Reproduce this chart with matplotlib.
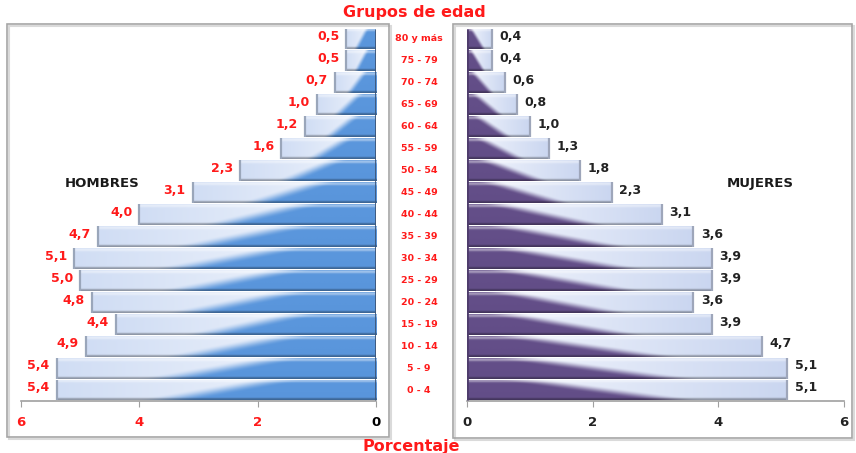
import numpy as np
import matplotlib
matplotlib.use("Agg")
import matplotlib.pyplot as plt
from matplotlib.patches import Rectangle
from matplotlib.colors import to_rgb

ages = ["0 - 4", "5 - 9", "10 - 14", "15 - 19", "20 - 24", "25 - 29", "30 - 34",
        "35 - 39", "40 - 44", "45 - 49", "50 - 54", "55 - 59", "60 - 64",
        "65 - 69", "70 - 74", "75 - 79", "80 y más"]
hombres = [5.4, 5.4, 4.9, 4.4, 4.8, 5.0, 5.1, 4.7, 4.0, 3.1, 2.3, 1.6, 1.2, 1.0, 0.7, 0.5, 0.5]
mujeres = [5.1, 5.1, 4.7, 3.9, 3.6, 3.9, 3.9, 3.6, 3.1, 2.3, 1.8, 1.3, 1.0, 0.8, 0.6, 0.4, 0.4]
xticks = [0, 2, 4, 6]

W, H = 856, 453
fig = plt.figure(figsize=(W / 100, H / 100), dpi=100)
fig.patch.set_facecolor("white")

def fx(px):
    return px / W

def fy(py):
    return 1 - py / H

# panel boxes
for (x0, x1, y0, y1) in [(7, 389, 24, 437), (453, 852, 24, 438)]:
    fig.patches.append(Rectangle((fx(x0) + 0.002, fy(y1) - 0.004), fx(x1 - x0), fy(y0) - fy(y1),
                                 transform=fig.transFigure, facecolor="none",
                                 edgecolor="#DADADA", linewidth=1.5, zorder=0))
    fig.patches.append(Rectangle((fx(x0), fy(y1)), fx(x1 - x0), fy(y0) - fy(y1),
                                 transform=fig.transFigure, facecolor="none",
                                 edgecolor="#A6A6A6", linewidth=1.2, zorder=1))

axL = fig.add_axes([fx(21), fy(401), fx(376 - 21), fy(28) - fy(401)])
axR = fig.add_axes([fx(467), fy(401), fx(844 - 467), fy(28) - fy(401)])

def gradient_img(dark, light_in, light_out, a, b, wdt=0.2, n=160, m=30):
    p = np.linspace(0, 1, n)[None, :]          # 0 at inner end, 1 at outer end
    v = np.linspace(0, 1, m)[:, None]          # 0 top, 1 bottom
    t = np.clip(((a + b * v) - p) / wdt + 0.5, 0, 1)
    t = t * t * (3 - 2 * t)
    dark = np.array(to_rgb(dark))
    li = np.array(to_rgb(light_in))
    lo = np.array(to_rgb(light_out))
    light = li[None, None, :] * (1 - p[..., None]) + lo[None, None, :] * p[..., None]
    light = np.broadcast_to(light, (m, n, 3))
    img = light * (1 - t[..., None]) + dark[None, None, :] * t[..., None]
    # top highlight (bevel)
    hl = np.exp(-((v - 0.07) / 0.07) ** 2)[..., None]
    img = img * (1 - 0.45 * hl) + 0.45 * hl
    # bottom shade
    sh = np.exp(-((v - 0.98) / 0.06) ** 2)[..., None]
    img = img * (1 - 0.35 * sh)
    return np.clip(img, 0, 1)

h = 0.95
y = np.arange(len(ages))

def draw_bars(ax, vals, dark, li, lo, endc, innerc, a, b):
    for yi, v in zip(y, vals):
        rect = Rectangle((0, yi - h / 2), v, h, facecolor="none", edgecolor="none")
        ax.add_patch(rect)
        img = gradient_img(dark, li, lo, a, b)
        im = ax.imshow(img, extent=[0, v, yi - h / 2, yi + h / 2], origin="upper",
                       aspect="auto", interpolation="bilinear", zorder=2)
        im.set_clip_path(rect)
        ax.plot([v, v], [yi - h / 2, yi + h / 2], color=endc, lw=1.6,
                solid_capstyle="butt", zorder=3)
    ax.plot([0, 0], [-h / 2, len(vals) - 1 + h / 2], color=innerc, lw=2.0,
            solid_capstyle="butt", zorder=3)

draw_bars(axL, hombres, "#5A96DC", "#F6F9FE", "#D0DDF4", "#9AA6BA", "#3C5577", 0.30, 0.36)
draw_bars(axR, mujeres, "#634E88", "#F6F8FE", "#CAD6F0", "#9EA6BA", "#4E3C6C", 0.16, 0.48)

for ax in (axL, axR):
    ax.set_ylim(-0.5, len(ages) - 0.5)
    ax.set_yticks([])
    for s in ("top", "left", "right"):
        ax.spines[s].set_visible(False)
    ax.spines["bottom"].set_color("#A0A0A0")
    ax.spines["bottom"].set_linewidth(1.2)
    ax.set_xticks(xticks)
    ax.tick_params(axis="x", direction="out", length=4, color="#A0A0A0", pad=7)
    ax.patch.set_alpha(0)

axL.set_xlim(6, 0)
axR.set_xlim(0, 6)
axL.set_xticklabels([str(t) for t in xticks], fontsize=9.5, fontweight="bold")
for lab, t in zip(axL.get_xticklabels(), xticks):
    lab.set_color("black" if t == 0 else "#FF1A1A")
axR.set_xticklabels([str(t) for t in xticks], fontsize=9.5, fontweight="bold", color="#222222")

for yi, v in zip(y, hombres):
    axL.text(v + 0.12, yi + 0.1, f"{v:.1f}".replace(".", ","), ha="right", va="center",
             fontsize=9, fontweight="bold", color="#FF1A1A")
for yi, v in zip(y, mujeres):
    axR.text(v + 0.12, yi + 0.1, f"{v:.1f}".replace(".", ","), ha="left", va="center",
             fontsize=9, fontweight="bold", color="#222222")

for yi, lab in zip(y, ages):
    yp = 401 - (yi + 0.5) * (373 / 17)
    fig.text(fx(419), fy(yp), lab, ha="center", va="center", fontsize=6.8,
             fontweight="bold", color="#FF1A1A")

fig.text(fx(414), fy(13), "Grupos de edad", ha="center", va="center", fontsize=11.5,
         fontweight="bold", color="#FF1A1A")
fig.text(fx(411), fy(446), "Porcentaje", ha="center", va="center", fontsize=11.5,
         fontweight="bold", color="#FF1A1A")
fig.text(fx(102), fy(183), "HOMBRES", ha="center", va="center", fontsize=9.5,
         fontweight="bold", color="#1A1A1A")
fig.text(fx(760), fy(183), "MUJERES", ha="center", va="center", fontsize=9.5,
         fontweight="bold", color="#1A1A1A")

fig.savefig("out.png", dpi=100)
